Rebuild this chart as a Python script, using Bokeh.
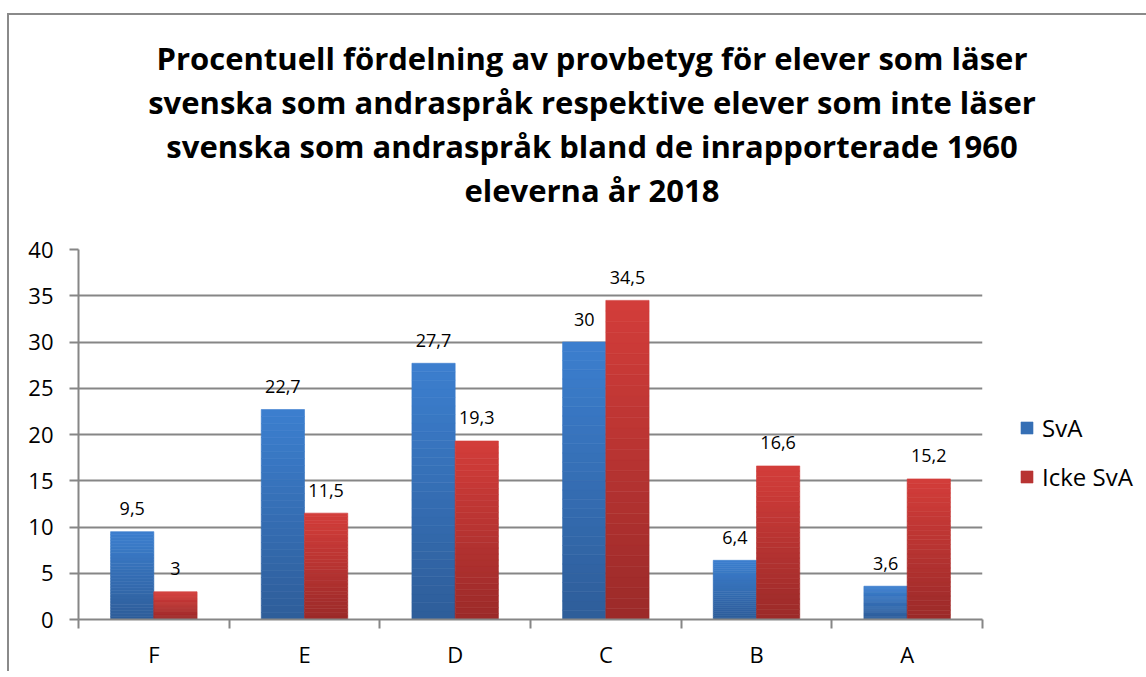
from bokeh.plotting import figure
from bokeh.layouts import column
from bokeh.models import (Range1d, FixedTicker, LinearAxis, Legend, LegendItem, Div,
                          ColumnDataSource, CustomJSTickFormatter)
from bokeh.embed import file_html
from bokeh.resources import INLINE
from bokeh.core.properties import value

# ---------------- data ----------------
categories = ["F", "E", "D", "C", "B", "A"]
sva = [9.5, 22.7, 27.7, 30, 6.4, 3.6]
icke_sva = [3, 11.5, 19.3, 34.5, 16.6, 15.2]
series_names = ["SvA", "Icke SvA"]
y_ticks = [0, 5, 10, 15, 20, 25, 30, 35, 40]
title_lines = [
    "Procentuell fördelning av provbetyg för elever som läser",
    "svenska som andraspråk respektive elever som inte läser",
    "svenska som andraspråk bland de inrapporterade 1960",
    "eleverna år 2018",
]

# ---------------- style ----------------
FONT = "Open Sans"
GRAY = "#868686"
BAR_W = 0.287
N_SLICES = 30
FRAME_W, FRAME_H = 904, 370
TOTAL_W = 69 + FRAME_W + 156
blue_top, blue_bottom = (60, 127, 207), (46, 93, 153)
red_top, red_bottom = (211, 61, 58), (155, 42, 41)


def hexc(c):
    return "#%02x%02x%02x" % tuple(int(round(v)) for v in c)


def mix(a, b, t):
    return tuple(a[i] + (b[i] - a[i]) * t for i in range(3))


def fmt(v):
    return f"{v:g}".replace(".", ",")


p = figure(frame_width=FRAME_W, frame_height=FRAME_H,
           x_range=Range1d(-0.5, len(categories) - 0.5), y_range=Range1d(0, 40),
           output_backend="svg", toolbar_location=None,
           min_border_left=69, min_border_right=156, min_border_top=18, min_border_bottom=50)
p.outline_line_color = None
p.background_fill_color = "white"
p.border_fill_color = "white"

# ---------------- bars with vertical gradient ----------------
series = [(sva, blue_top, blue_bottom, -BAR_W / 2), (icke_sva, red_top, red_bottom, BAR_W / 2)]
renderers = []
for vals, ctop, cbot, off in series:
    xs, bots, tops, cols = [], [], [], []
    for i, v in enumerate(vals):
        for k in range(N_SLICES):
            xs.append(i + off)
            bots.append(v * k / N_SLICES)
            tops.append(v * (k + 1) / N_SLICES)
            cols.append(hexc(mix(cbot, ctop, (k + 0.5) / N_SLICES)))
    src = ColumnDataSource(dict(x=xs, bottom=bots, top=tops, color=cols))
    r = p.vbar(x="x", bottom="bottom", top="top", width=BAR_W, fill_color="color",
               line_color="color", line_width=0.6, source=src)
    renderers.append(r)

# ---------------- data labels ----------------
lx, ly, lt = [], [], []
for vals, _, _, off in series:
    for i, v in enumerate(vals):
        lx.append(i + off)
        ly.append(v)
        lt.append(fmt(v))
p.text(x=lx, y=ly, text=lt, text_align="center", text_baseline="middle", y_offset=-23,
       text_font=value(FONT), text_font_size="18px", text_color="black")

# ---------------- axes ----------------
yax = p.yaxis[0]
yax.ticker = FixedTicker(ticks=y_ticks)
yax.axis_line_color = GRAY
yax.axis_line_width = 2
yax.major_tick_line_color = GRAY
yax.major_tick_line_width = 2
yax.major_tick_out = 9
yax.major_tick_in = 0
yax.minor_tick_line_color = None
yax.major_label_text_font = FONT
yax.major_label_text_font_size = "22px"
yax.major_label_text_color = "black"
yax.major_label_standoff = 16

p.ygrid.grid_line_color = GRAY
p.ygrid.grid_line_width = 2
p.xgrid.grid_line_color = None

xax = p.xaxis[0]
xax.ticker = FixedTicker(ticks=[i - 0.5 for i in range(len(categories) + 1)])
xax.formatter = CustomJSTickFormatter(code="return ''")
xax.axis_line_color = GRAY
xax.axis_line_width = 2
xax.major_tick_line_color = GRAY
xax.major_tick_line_width = 2
xax.major_tick_out = 9
xax.major_tick_in = 0
xax.minor_tick_line_color = None
xax.major_label_standoff = 0

lab_ax = LinearAxis(ticker=FixedTicker(ticks=list(range(len(categories)))),
                    major_label_overrides={i: c for i, c in enumerate(categories)})
lab_ax.axis_line_color = None
lab_ax.major_tick_line_color = None
lab_ax.minor_tick_line_color = None
lab_ax.major_tick_out = 0
lab_ax.major_tick_in = 0
lab_ax.major_label_standoff = 10
lab_ax.major_label_text_font = FONT
lab_ax.major_label_text_font_size = "22px"
lab_ax.major_label_text_color = "black"
p.add_layout(lab_ax, "below")

# ---------------- legend ----------------
mid = N_SLICES // 2
legend = Legend(items=[LegendItem(label=series_names[0], renderers=[renderers[0]], index=mid),
                       LegendItem(label=series_names[1], renderers=[renderers[1]], index=mid)],
                location=(37, 126), orientation="vertical", border_line_color=None,
                background_fill_alpha=0, glyph_width=15, glyph_height=15, label_height=28,
                spacing=16, padding=10, margin=0, label_standoff=8,
                label_text_font=FONT, label_text_font_size="24px", label_text_color="black")
p.add_layout(legend, "right")

# ---------------- title block (centred on the whole chart area) ----------------
title_html = (
    f'<div style="box-sizing:border-box;width:{TOTAL_W}px;padding-left:27px;padding-top:16px;'
    "text-align:center;font-family:'Open Sans';font-weight:bold;font-size:31px;"
    'line-height:44px;color:#000;white-space:nowrap;">'
    + "<br>".join(title_lines)
    + "</div>"
)
title_div = Div(text=title_html, width=TOTAL_W, height=206)

layout = column(title_div, p, spacing=0)
layout.styles = {"border-top": "2px solid #8a8a8a", "border-left": "2px solid #8a8a8a",
                 "margin-top": "13px", "margin-left": "7px", "background": "white"}

open("out.html", "w").write(file_html(layout, INLINE))
